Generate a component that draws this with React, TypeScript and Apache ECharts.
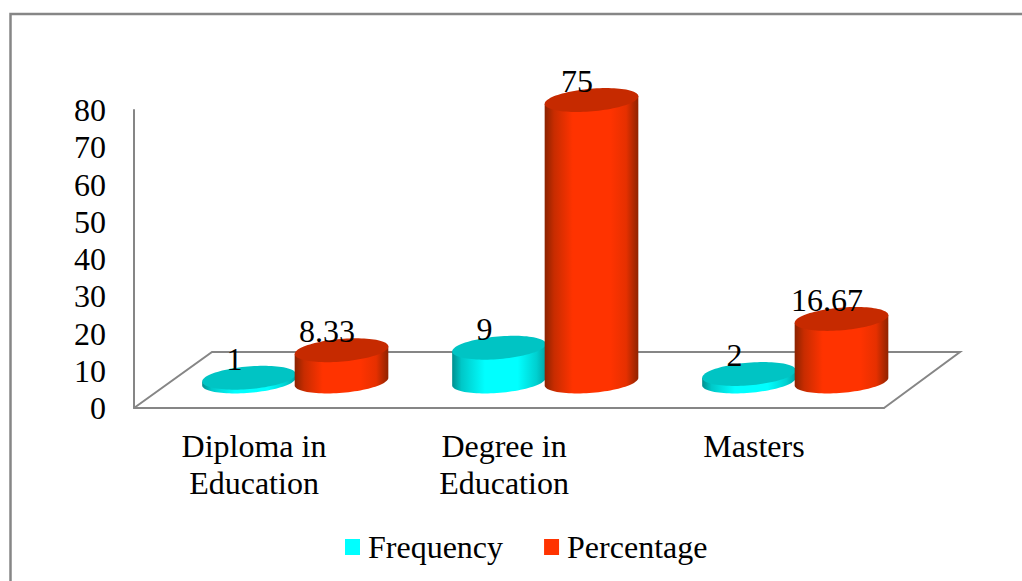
import React, { useEffect, useRef } from "react";
import * as echarts from "echarts";

const categories = ["Diploma in\nEducation", "Degree in\nEducation", "Masters"];
const frequency = [1, 9, 2];
const percentage = [8.33, 75, 16.67];
const frequencyLabels = ["1", "9", "2"];
const percentageLabels = ["8.33", "75", "16.67"];
const yMax = 80;
const yStep = 10;

const FONT = '"Liberation Serif", "Times New Roman", serif';
const LINE = "#868686";
const RX = 47;
const RY = 11.3;
const TILT = 0.085;
const BASE_LIFT = 26.5;
const STRETCH = 1.0075;

function ellipsePoint(cx: number, cy: number, t: number): number[] {
  return [
    cx + RX * Math.cos(t) * Math.cos(TILT) + RY * Math.sin(t) * Math.sin(TILT),
    cy - RX * Math.cos(t) * Math.sin(TILT) + RY * Math.sin(t) * Math.cos(TILT),
  ];
}

function cylinderSeries(
  name: string,
  values: number[],
  labels: string[],
  xOffset: number,
  flat: string,
  topColor: string,
  stops: [number, string][],
) {
  return {
    name,
    type: "custom",
    coordinateSystem: "cartesian2d",
    itemStyle: { color: flat },
    data: values.map((v, i) => [i, v]),
    encode: { x: 0, y: 1 },
    renderItem: (_params: any, api: any) => {
      const idx = api.value(0);
      const value = api.value(1);
      const top = api.coord([idx, value]);
      const zero = api.coord([idx, 0]);
      const cx = zero[0] + xOffset;
      const baseY = zero[1] - BASE_LIFT;
      const topY = baseY - (zero[1] - top[1]) * STRETCH;
      const body: number[][] = [ellipsePoint(cx, topY, Math.PI)];
      for (let k = 0; k <= 48; k++) {
        body.push(ellipsePoint(cx, baseY, Math.PI - (Math.PI * k) / 48));
      }
      body.push(ellipsePoint(cx, topY, 0));
      const lid: number[][] = [];
      for (let k = 0; k < 96; k++) {
        lid.push(ellipsePoint(cx, topY, (2 * Math.PI * k) / 96));
      }
      return {
        type: "group",
        children: [
          {
            type: "polygon",
            shape: { points: body },
            style: {
              fill: new echarts.graphic.LinearGradient(
                0, 0, 1, 0,
                stops.map(([offset, color]) => ({ offset, color })),
              ),
            },
          },
          { type: "polygon", shape: { points: lid }, style: { fill: topColor } },
          {
            type: "text",
            x: cx - 14.5,
            y: topY - 19,
            style: {
              text: labels[idx],
              fill: "#000",
              font: `32px ${FONT}`,
              align: "center",
              verticalAlign: "middle",
            },
          },
        ],
      };
    },
  };
}

export default function App() {
  const ref = useRef<HTMLDivElement>(null);
  useEffect(() => {
    document.body.style.margin = "0";
    document.body.style.background = "#fff";
    const chart = echarts.init(ref.current!, undefined, { renderer: "svg" });
    const lineStyle = { stroke: LINE, lineWidth: 2, fill: "none" };
    chart.setOption({
      animation: false,
      backgroundColor: "#fff",
      textStyle: { fontFamily: FONT },
      grid: { left: 134, top: 110, width: 750, height: 298, containLabel: false },
      xAxis: {
        type: "category",
        data: categories,
        axisLine: { show: true, lineStyle: { color: LINE, width: 2 } },
        axisTick: { show: false },
        axisLabel: {
          color: "#000",
          fontSize: 32,
          fontFamily: FONT,
          margin: 19,
          lineHeight: 37,
          interval: 0,
          padding: [0, 10, 0, 0],
        },
        splitLine: { show: false },
      },
      yAxis: {
        type: "value",
        min: 0,
        max: yMax,
        interval: yStep,
        axisLine: { show: true, lineStyle: { color: LINE, width: 2 } },
        axisTick: { show: false },
        axisLabel: { color: "#000", fontSize: 32, fontFamily: FONT, margin: 28 },
        splitLine: { show: false },
      },
      legend: {
        left: 340,
        top: 526,
        itemWidth: 15,
        itemHeight: 16,
        itemGap: 41,
        icon: "rect",
        selectedMode: false,
        textStyle: { color: "#000", fontSize: 32, fontFamily: FONT, padding: [0, 0, 0, 3] },
        data: ["Frequency", "Percentage"],
      },
      graphic: [
        { type: "polyline", shape: { points: [[10.5, 581], [10.5, 14], [1022, 14]] }, style: { ...lineStyle, lineWidth: 2.5 }, silent: true },
        { type: "polyline", shape: { points: [[134, 408], [212, 352], [960, 352], [884, 408]] }, style: lineStyle, silent: true },
      ],
      series: [
        cylinderSeries("Frequency", frequency, frequencyLabels, -10, "#00ffff", "#00c4c4", [
          [0, "#008f8f"], [0.1, "#00c8c8"], [0.35, "#00ffff"], [0.7, "#00ffff"], [0.9, "#00d0d0"], [1, "#00a6a6"],
        ]),
        cylinderSeries("Percentage", percentage, percentageLabels, 82.5, "#ff3300", "#c62a00", [
          [0, "#8b2200"], [0.1, "#c72c00"], [0.3, "#ff3300"], [0.7, "#ff3300"], [0.87, "#e63000"], [1, "#8f2300"],
        ]),
      ],
    });
    return () => chart.dispose();
  }, []);
  return <div ref={ref} style={{ width: 1022, height: 581 }} />;
}
